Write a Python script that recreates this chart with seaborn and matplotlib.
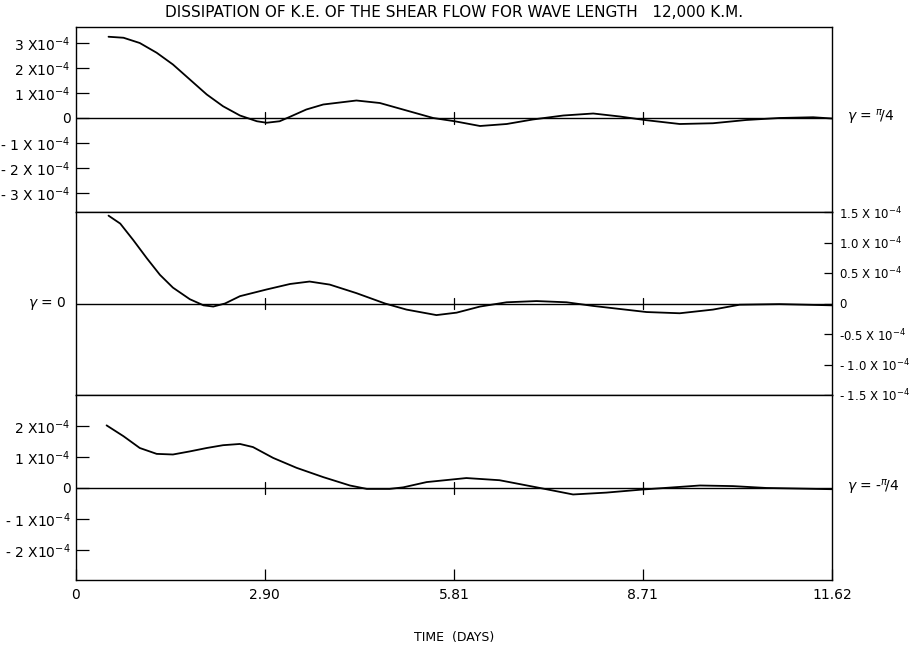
import matplotlib
matplotlib.use("Agg")
import matplotlib.pyplot as plt
import seaborn as sns
import pandas as pd

# ---------------- data (dissipation, units of 1e-4) ----------------
t_top = [0.50, 0.73, 0.98, 1.24, 1.49, 1.75, 2.01, 2.26, 2.52, 2.78, 2.93, 3.13, 3.29,
         3.54, 3.80, 4.31, 4.67, 5.08, 5.49, 5.82, 6.21, 6.62, 7.02, 7.49, 7.95, 8.36,
         8.74, 9.28, 9.79, 10.30, 10.81, 11.33, 11.62]
v_top = [3.25, 3.21, 3.00, 2.61, 2.14, 1.54, 0.94, 0.47, 0.10, -0.13, -0.19, -0.13, 0.05,
         0.34, 0.54, 0.70, 0.60, 0.30, 0.00, -0.13, -0.32, -0.24, -0.06, 0.10, 0.18, 0.06,
         -0.08, -0.24, -0.21, -0.08, 0.00, 0.03, -0.02]

t_mid = [0.50, 0.68, 0.88, 1.09, 1.29, 1.49, 1.75, 1.96, 2.11, 2.29, 2.52, 2.93, 3.29,
         3.59, 3.90, 4.31, 4.75, 5.08, 5.54, 5.85, 6.21, 6.62, 7.08, 7.54, 7.95, 8.36,
         8.77, 9.28, 9.79, 10.20, 10.81, 11.62]
v_mid = [1.44, 1.31, 1.04, 0.74, 0.47, 0.26, 0.07, -0.03, -0.05, 0.00, 0.12, 0.23, 0.32,
         0.36, 0.31, 0.17, 0.00, -0.10, -0.19, -0.15, -0.05, 0.02, 0.04, 0.02, -0.04, -0.09,
         -0.14, -0.16, -0.10, -0.02, -0.01, -0.03]

t_bot = [0.47, 0.73, 0.98, 1.24, 1.49, 1.75, 2.01, 2.26, 2.52, 2.72, 3.03, 3.39, 3.80,
         4.21, 4.47, 4.82, 5.03, 5.39, 6.00, 6.51, 7.13, 7.64, 8.15, 8.71, 9.59, 10.10,
         10.61, 11.12, 11.62]
v_bot = [2.02, 1.67, 1.29, 1.10, 1.08, 1.18, 1.29, 1.38, 1.42, 1.32, 0.97, 0.65, 0.35,
         0.08, -0.03, -0.03, 0.02, 0.19, 0.32, 0.25, 0.00, -0.21, -0.15, -0.05, 0.08, 0.06,
         0.00, -0.02, -0.04]

x_ticks = [0, 2.90, 5.81, 8.71, 11.62]
x_ticklabels = ["0", "2.90", "5.81", "8.71", "11.62"]

top_ticks = [3, 2, 1, 0, -1, -2, -3]
top_ticklabels = [r"3 X10$^{-4}$", r"2 X10$^{-4}$", r"1 X10$^{-4}$", "0",
                  r"- 1 X 10$^{-4}$", r"- 2 X 10$^{-4}$", r"- 3 X 10$^{-4}$"]
mid_ticks = [1.5, 1.0, 0.5, 0, -0.5, -1.0, -1.5]
mid_ticklabels = [r"1.5 X 10$^{-4}$", r"1.0 X 10$^{-4}$", r"0.5 X 10$^{-4}$", "0",
                  r"-0.5 X 10$^{-4}$", r"- 1.0 X 10$^{-4}$", r"- 1.5 X 10$^{-4}$"]
bot_ticks = [2, 1, 0, -1, -2]
bot_ticklabels = [r"2 X10$^{-4}$", r"1 X10$^{-4}$", "0", r"- 1 X10$^{-4}$", r"- 2 X10$^{-4}$"]

title = "DISSIPATION OF K.E. OF THE SHEAR FLOW FOR WAVE LENGTH   12,000 K.M."
xlabel = "TIME  (DAYS)"

# ---------------- figure ----------------
sns.set_theme(style="white")
plt.rcParams['font.family'] = ['DejaVu Sans']
plt.rcParams['mathtext.fontset'] = 'dejavusans'
plt.rcParams['text.color'] = 'black'
plt.rcParams['axes.labelcolor'] = 'black'

fig = plt.figure(figsize=(9.18, 6.49), dpi=100)
L, W = 76 / 918, (832 - 76) / 918
ax_top = fig.add_axes([L, 1 - 212 / 649, W, 185 / 649])
ax_mid = fig.add_axes([L, 1 - 395 / 649, W, 183 / 649])
ax_bot = fig.add_axes([L, 1 - 580 / 649, W, 185 / 649])

panels = [
    (ax_top, t_top, v_top, (-3.76, 3.64)),
    (ax_mid, t_mid, v_mid, (-1.5, 1.5)),
    (ax_bot, t_bot, v_bot, (-2.97, 3.0)),
]

for ax, t, v, ylim in panels:
    df = pd.DataFrame({"t": t, "v": v})
    sns.lineplot(data=df, x="t", y="v", ax=ax, color="black", linewidth=1.3)
    ax.set_xlim(0, 11.62)
    ax.set_ylim(*ylim)
    ax.axhline(0, color="black", linewidth=1.0)
    z = (0 - ylim[0]) / (ylim[1] - ylim[0])
    for xt in x_ticks[1:-1]:
        ax.axvline(xt, ymin=z - 0.03, ymax=z + 0.03, color="black", linewidth=0.9)
    ax.set_xlabel("")
    ax.set_ylabel("")
    for s in ax.spines.values():
        s.set_color("black")
        s.set_linewidth(1.0)
    ax.set_facecolor("white")

# top
ax_top.set_yticks(top_ticks)
ax_top.set_yticklabels(top_ticklabels)
ax_top.set_xticks([])
ax_top.tick_params(axis="y", direction="in", length=9, width=0.9, left=True,
                   labelsize=10, pad=4, colors="black")
ax_top.set_title(title, fontsize=11, pad=7, color="black")

# middle
ax_mid.set_xticks([])
ax_mid.yaxis.tick_right()
ax_mid.set_yticks(mid_ticks)
ax_mid.set_yticklabels(mid_ticklabels)
ax_mid.tick_params(axis="y", direction="in", length=6, width=0.9, right=True, left=False,
                   labelsize=8.5, pad=5, colors="black")

# bottom
ax_bot.set_yticks(bot_ticks)
ax_bot.set_yticklabels(bot_ticklabels)
ax_bot.set_xticks(x_ticks)
ax_bot.set_xticklabels(x_ticklabels)
ax_bot.tick_params(axis="y", direction="in", length=9, width=0.9, left=True,
                   labelsize=10, pad=4, colors="black")
ax_bot.tick_params(axis="x", direction="in", length=8, width=0.9, bottom=True,
                   labelsize=10, pad=6, colors="black")
ax_bot.set_xlabel(xlabel, fontsize=9, labelpad=21, color="black")

# gamma annotations
ax_top.text(1.02, (0 - (-3.76)) / (3.64 + 3.76), r"$\gamma$ = $^{\pi}\!/4$",
            transform=ax_top.transAxes, ha="left", va="center", fontsize=10, color="black")
ax_mid.text(-0.012, 0.5, r"$\gamma$ = 0", transform=ax_mid.transAxes,
            ha="right", va="center", fontsize=10, color="black")
ax_bot.text(1.02, (0 + 2.97) / (3.0 + 2.97), r"$\gamma$ = -$^{\pi}\!/4$",
            transform=ax_bot.transAxes, ha="left", va="center", fontsize=10, color="black")

fig.savefig("out.png", dpi=100, facecolor="white")
